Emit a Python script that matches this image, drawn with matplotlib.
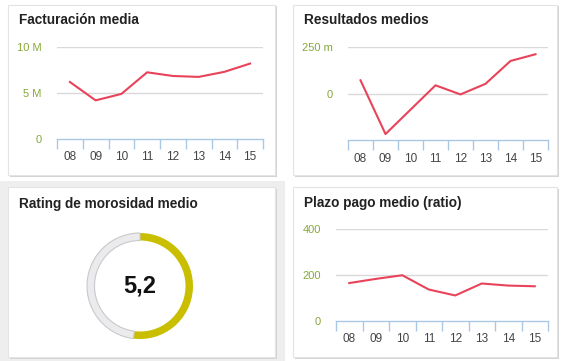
import numpy as np
import matplotlib.pyplot as plt
from matplotlib.patches import Rectangle

plt.rcParams['font.family'] = ['Liberation Sans', 'DejaVu Sans']

years = ['08', '09', '10', '11', '12', '13', '14', '15']
facturacion = [6.2, 4.2, 4.9, 7.25, 6.85, 6.75, 7.3, 8.2]          # millones
resultados = [71, -218, -87, 44, -5, 52, 175, 211]                  # miles
plazo_pago = [165, 183, 199, 137, 111, 163, 154, 151]
rating = 5.2
rating_max = 10

W, H = 563, 361
LINE = '#e8435a'
GREEN = '#86a83a'
BLUE = '#a9c8e6'
GRID = '#d9d9d9'

fig = plt.figure(figsize=(W / 100, H / 100), dpi=100)
fig.patch.set_facecolor('white')


def rect(x0, y0, x1, y1):
    # pixel box (top-left origin) -> figure fraction
    return [x0 / W, 1 - y1 / H, (x1 - x0) / W, (y1 - y0) / H]


def card(x0, y0, x1, y1):
    l, b, w, h = rect(x0, y0, x1, y1)
    fig.patches.append(Rectangle((l + 1.5 / W, b - 1.5 / H), w, h, transform=fig.transFigure,
                                 facecolor='#d4d4d4', edgecolor='none', zorder=0))
    fig.patches.append(Rectangle((l, b), w, h, transform=fig.transFigure,
                                 facecolor='white', edgecolor='#e4e4e4', lw=0.8, zorder=0.5))


# halo around the selected card
fig.patches.append(Rectangle(rect(0, 181, 285, 361)[:2], 285 / W, 180 / H, transform=fig.transFigure,
                             facecolor='#eeeeee', edgecolor='none', zorder=0))

card(8, 5, 275, 175)
card(293, 5, 557, 175)
card(8, 187, 275, 357)
card(293, 187, 557, 357)

titles = [(19, 20, 'Facturación media'), (304, 20, 'Resultados medios'),
          (19, 204, 'Rating de morosidad medio'), (304, 203, 'Plazo pago medio (ratio)')]
for x, y, t in titles:
    fig.text(x / W, 1 - y / H, t, fontsize=9.8, fontweight='bold', color='#222222', va='center')


def line_panel(box, values, ylim, yticks, ylabels):
    ax = fig.add_axes(rect(*box), zorder=2)
    ax.set_facecolor('none')
    x = np.arange(len(years))
    ax.plot(x, values, color=LINE, lw=1.5, zorder=3)
    ax.set_xlim(-0.5, len(years) - 0.5)
    ax.set_ylim(*ylim)
    for t in yticks:
        if t != ylim[0]:
            ax.axhline(t, color=GRID, lw=1, zorder=1)
    for s in ['top', 'right', 'left']:
        ax.spines[s].set_visible(False)
    ax.spines['bottom'].set_color(BLUE)
    ax.spines['bottom'].set_linewidth(1)
    ax.set_xticks(np.arange(-0.5, len(years)))
    ax.set_xticklabels([])
    ax.tick_params(axis='x', which='major', length=7, color=BLUE, width=1)
    ax.set_xticks(x, minor=True)
    ax.set_xticklabels(years, minor=True)
    ax.tick_params(axis='x', which='minor', length=0, pad=9, labelsize=8.5, labelcolor='#444444')
    ax.set_yticks(yticks)
    ax.set_yticklabels(ylabels)
    ax.tick_params(axis='y', length=0, pad=11, labelsize=8, labelcolor=GREEN)
    return ax


line_panel((57, 47, 263, 139), facturacion, (0, 10), [0, 5, 10], ['0', '5 M', '10 M'])
line_panel((348, 47, 548, 140), resultados, (-250, 250), [0, 250], ['0', '250 m'])
line_panel((336, 229, 548, 321), plazo_pago, (0, 400), [0, 200, 400], ['0', '200', '400'])

# donut
ax = fig.add_axes(rect(80, 226, 200, 346), zorder=2)
ax.set_aspect('equal')
ax.axis('off')
r = 53 / 60
wedges, _ = ax.pie([rating, rating_max - rating], colors=['#c9bf00', '#ebebed'], startangle=90,
                   counterclock=False, radius=r, wedgeprops=dict(width=7.5 / 60, linewidth=0))
wedges[1].set_edgecolor('#c9c9cc')
wedges[1].set_linewidth(0.8)
ax.set_xlim(-1, 1)
ax.set_ylim(-1, 1)
ax.text(0, 0, '5,2', ha='center', va='center', fontsize=17, fontweight='bold', color='#111111')

fig.savefig('out.png', dpi=100, facecolor='white')
